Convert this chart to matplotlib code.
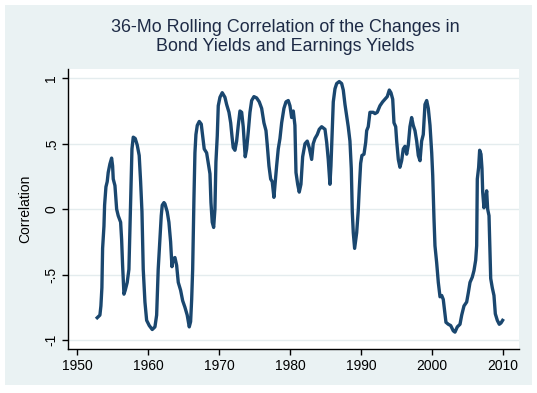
import matplotlib
matplotlib.use('Agg')
from matplotlib import pyplot as plt
from matplotlib.patches import Rectangle

plt.rcParams['font.family'] = ['Liberation Sans', 'DejaVu Sans']

# values
years = [1952.82, 1953.20, 1953.34, 1953.48, 1953.58, 1953.77, 1953.86, 1954.05, 1954.23, 1954.37,
         1954.61, 1954.85, 1954.99, 1955.08, 1955.32, 1955.56, 1955.78, 1956.12, 1956.26, 1956.40,
         1956.59, 1956.77, 1957.05, 1957.29, 1957.43, 1957.57, 1957.72, 1957.90, 1958.18, 1958.46,
         1958.74, 1958.94, 1959.13, 1959.31, 1959.55, 1959.79, 1960.16, 1960.58, 1960.96, 1961.20,
         1961.42, 1961.66, 1961.85, 1961.99, 1962.23,
         1962.37, 1962.69, 1962.93, 1963.17, 1963.36, 1963.54, 1963.78, 1964.02, 1964.25, 1964.58,
         1964.87, 1965.19, 1965.51, 1965.80, 1965.99, 1966.14, 1966.28, 1966.46, 1966.60, 1966.74,
         1966.93, 1967.21, 1967.49, 1967.69, 1967.91, 1968.25, 1968.48, 1968.72, 1968.86, 1969.04,
         1969.24, 1969.42, 1969.56, 1969.75, 1969.89, 1970.13, 1970.45, 1970.83, 1971.07, 1971.40,
         1971.64, 1971.82, 1972.00,
         1972.24, 1972.48, 1972.71, 1972.95, 1973.19, 1973.41, 1973.69, 1973.89, 1974.12, 1974.36,
         1974.60, 1974.92, 1975.30, 1975.67, 1976.01, 1976.33, 1976.62, 1976.80, 1977.04, 1977.28,
         1977.50, 1977.74, 1977.93, 1978.12, 1978.35, 1978.59, 1978.83, 1979.15, 1979.44, 1979.76,
         1980.00, 1980.24, 1980.47, 1980.70, 1980.85, 1981.09, 1981.31, 1981.55, 1981.79,
         1982.12, 1982.44, 1982.72, 1983.06, 1983.28, 1983.53, 1983.85, 1984.13, 1984.47, 1984.94,
         1985.18, 1985.40, 1985.64, 1985.78, 1985.97, 1986.11, 1986.35, 1986.59, 1986.95, 1987.29,
         1987.52, 1987.76, 1988.00, 1988.22, 1988.46, 1988.65, 1988.79, 1988.93, 1989.12, 1989.41,
         1989.63, 1989.77, 1989.97, 1990.15, 1990.44, 1990.68, 1990.82, 1991.04, 1991.28, 1991.75,
         1991.99, 1992.31, 1992.69, 1993.07, 1993.40, 1993.72, 1994.01, 1994.24, 1994.49, 1994.67,
         1994.91, 1995.05, 1995.28, 1995.51, 1995.75, 1995.98, 1996.22, 1996.46, 1996.69, 1996.92,
         1997.16, 1997.39, 1997.63, 1997.87, 1998.10, 1998.34, 1998.57, 1998.80, 1999.04, 1999.28,
         1999.51, 1999.75, 1999.99, 2000.13, 2000.31, 2000.45, 2000.69, 2000.92, 2001.16, 2001.40,
         2001.62, 2002.00, 2002.33, 2002.67, 2003.03, 2003.27, 2003.60, 2003.98, 2004.22, 2004.54,
         2004.92, 2005.15, 2005.39, 2005.71, 2005.95, 2006.19, 2006.33, 2006.42, 2006.61, 2006.75,
         2006.94, 2007.08, 2007.18, 2007.36, 2007.50, 2007.74, 2007.88, 2008.07, 2008.21, 2008.31,
         2008.53, 2008.77, 2008.96, 2009.24, 2009.52, 2009.76, 2009.99]
corr = [-0.83, -0.81, -0.74, -0.60, -0.30, -0.13, 0.03, 0.17, 0.21, 0.28,
        0.345, 0.39, 0.33, 0.23, 0.18, 0.00, -0.05, -0.10, -0.23, -0.43,
        -0.65, -0.62, -0.56, -0.46, -0.15, 0.18, 0.46, 0.55, 0.54, 0.49,
        0.41, 0.21, -0.02, -0.46, -0.71, -0.85, -0.89, -0.92, -0.90, -0.81,
        -0.46, -0.23, -0.05, 0.03, 0.05,
        0.04, -0.02, -0.10, -0.25, -0.44, -0.38, -0.37, -0.43, -0.56, -0.62,
        -0.70, -0.75, -0.81, -0.90, -0.86, -0.69, -0.46, 0.08, 0.43, 0.57,
        0.64, 0.67, 0.65, 0.56, 0.46, 0.43, 0.35, 0.27, 0.05, -0.10,
        -0.14, 0.00, 0.36, 0.56, 0.79, 0.855, 0.89, 0.855, 0.80, 0.74,
        0.66, 0.56, 0.47,
        0.45, 0.52, 0.64, 0.75, 0.74, 0.63, 0.40, 0.46, 0.59, 0.74,
        0.83, 0.86, 0.85, 0.82, 0.77, 0.66, 0.60, 0.49, 0.33, 0.23,
        0.21, 0.09, 0.21, 0.33, 0.46, 0.54, 0.66, 0.77, 0.82, 0.83,
        0.79, 0.70, 0.75, 0.64, 0.28, 0.19, 0.13, 0.19, 0.40,
        0.50, 0.52, 0.47, 0.38, 0.50, 0.54, 0.57, 0.61, 0.63, 0.61,
        0.51, 0.38, 0.19, 0.33, 0.61, 0.82, 0.92, 0.96, 0.975, 0.96,
        0.91, 0.80, 0.71, 0.63, 0.52, 0.31, -0.02, -0.18, -0.30, -0.18,
        -0.01, 0.15, 0.35, 0.41, 0.42, 0.51, 0.60, 0.63, 0.74, 0.74,
        0.73, 0.74, 0.79, 0.82, 0.84, 0.86, 0.91, 0.89, 0.84, 0.66,
        0.63, 0.52, 0.38, 0.32, 0.37, 0.46, 0.48, 0.42, 0.49, 0.63,
        0.70, 0.64, 0.60, 0.52, 0.41, 0.37, 0.52, 0.57, 0.80, 0.83,
        0.77, 0.64, 0.43, 0.26, -0.07, -0.28, -0.41, -0.56, -0.67, -0.66,
        -0.69, -0.865, -0.88, -0.89, -0.93, -0.94, -0.90, -0.88, -0.81, -0.74,
        -0.71, -0.64, -0.56, -0.52, -0.47, -0.39, -0.28, 0.23, 0.32, 0.45,
        0.42, 0.31, 0.13, 0.01, 0.05, 0.14, 0.00, -0.05, -0.33, -0.53,
        -0.60, -0.66, -0.80, -0.85, -0.88, -0.87, -0.85]

xticks = [1950, 1960, 1970, 1980, 1990, 2000, 2010]
yticks = [-1, -0.5, 0, 0.5, 1]
ylabels = ['-1', '-.5', '0', '.5', '1']

bg = '#eaf2f3'
fig = plt.figure(figsize=(5.37, 3.93), dpi=100)
fig.patch.set_facecolor('white')
fig.add_artist(Rectangle((5 / 537, 8 / 393), 527 / 537, 380 / 393,
                         transform=fig.transFigure, facecolor=bg, edgecolor='none', zorder=-10))

ax = fig.add_axes([68 / 537, 44 / 393, 451 / 537, 280 / 393])
ax.set_facecolor('white')
ax.plot(years, corr, color='#1a476f', lw=2.4, solid_joinstyle='round')

ax.set_xlim(1948.7, 2012.3)
ax.set_ylim(-1.069, 1.071)
ax.set_xticks(xticks)
ax.set_yticks(yticks)
ax.set_yticklabels(ylabels, rotation=90, va='center')
ax.grid(axis='y', color='#e4ecee', lw=1)
ax.set_axisbelow(True)
for s in ['top', 'right']:
    ax.spines[s].set_visible(False)
for s in ['left', 'bottom']:
    ax.spines[s].set_color('black')
    ax.spines[s].set_linewidth(1)
ax.tick_params(axis='both', direction='out', length=4, width=1, labelsize=10, colors='black')
ax.tick_params(axis='y', pad=3)
ax.tick_params(axis='x', pad=3)
ax.set_ylabel('Correlation', fontsize=10, labelpad=9)

fig.text(285 / 537, 1 - 37 / 393, '36-Mo Rolling Correlation of the Changes in\nBond Yields and Earnings Yields',
         ha='center', va='center', fontsize=12.9, color='#1e2b46', linespacing=1.1)

plt.savefig('out.png', dpi=100, facecolor=fig.get_facecolor())
print('done')
